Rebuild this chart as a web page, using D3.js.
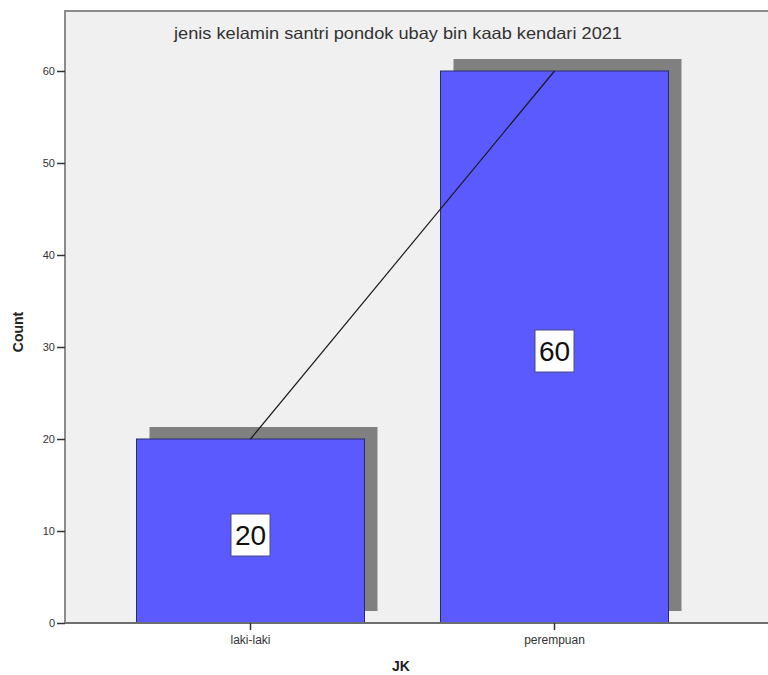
<!DOCTYPE html>
<html>
<head>
<meta charset="utf-8">
<script src="https://cdn.jsdelivr.net/npm/d3@7"></script>
<style>
  html, body { margin: 0; padding: 0; background: #ffffff; }
  svg { display: block; }
  text { font-family: "Liberation Sans", Arial, sans-serif; }
</style>
</head>
<body>
<svg id="chart" width="768" height="675"></svg>
<script>
// Gender of santri, Pondok Ubay bin Kaab Kendari 2021
const categories = ["laki-laki", "perempuan"];
const counts = [20, 60];
const yTicks = [0, 10, 20, 30, 40, 50, 60];
const titleText = "jenis kelamin santri pondok ubay bin kaab kendari 2021";
const xTitle = "JK";
const yTitle = "Count";

const svg = d3.select("#chart");

const plot = { left: 65, top: 11, right: 790, bottom: 623 };

const x = d3.scaleBand()
  .domain(categories)
  .range([98.5, 706.5])
  .paddingInner(0.25)
  .paddingOuter(0.125);

const y = d3.scaleLinear()
  .domain([0, 60])
  .range([623, 71]);

// plot background and frame
svg.append("rect")
  .attr("x", plot.left)
  .attr("y", plot.top)
  .attr("width", plot.right - plot.left)
  .attr("height", plot.bottom - plot.top)
  .attr("fill", "#f0f0f0")
  .attr("stroke", "#8c8c8c")
  .attr("stroke-width", 2);

// title inside the plot
svg.append("text")
  .attr("x", 398)
  .attr("y", 39)
  .attr("text-anchor", "middle")
  .attr("font-size", 16.5)
  .attr("textLength", 448)
  .attr("lengthAdjust", "spacingAndGlyphs")
  .attr("fill", "#333")
  .text(titleText);

const shadowDx = 13, shadowDy = -12;

// drop shadows
svg.append("g").selectAll("rect")
  .data(categories)
  .join("rect")
  .attr("x", d => x(d) + shadowDx)
  .attr("y", (d, i) => y(counts[i]) + shadowDy)
  .attr("width", x.bandwidth())
  .attr("height", (d, i) => y(0) - y(counts[i]))
  .attr("fill", "#808080");

// bars
svg.append("g").selectAll("rect")
  .data(categories)
  .join("rect")
  .attr("x", d => x(d))
  .attr("y", (d, i) => y(counts[i]))
  .attr("width", x.bandwidth())
  .attr("height", (d, i) => y(0) - y(counts[i]))
  .attr("fill", "#5a5aff")
  .attr("stroke", "#2a2a6a")
  .attr("stroke-width", 1);

// line joining the bar tops
const line = d3.line()
  .x(d => x(d.c) + x.bandwidth() / 2)
  .y(d => y(d.v));
svg.append("path")
  .datum(categories.map((c, i) => ({ c, v: counts[i] })))
  .attr("d", line)
  .attr("fill", "none")
  .attr("stroke", "#1a1a1a")
  .attr("stroke-width", 1.2);

// value labels in white boxes
const labels = svg.append("g").selectAll("g")
  .data(categories)
  .join("g")
  .attr("transform", (d, i) =>
    `translate(${x(d) + x.bandwidth() / 2},${y(counts[i] / 2) + 4})`);
labels.append("rect")
  .attr("x", -19.5)
  .attr("y", -21)
  .attr("width", 39)
  .attr("height", 42)
  .attr("fill", "#ffffff")
  .attr("stroke", "#4a4a8a")
  .attr("stroke-width", 1);
labels.append("text")
  .attr("text-anchor", "middle")
  .attr("dy", "0.35em")
  .attr("font-size", 28)
  .attr("fill", "#111")
  .text((d, i) => counts[i]);

// y axis
const yAxis = svg.append("g")
  .attr("transform", `translate(${plot.left},0)`)
  .call(d3.axisLeft(y).tickValues(yTicks).tickSize(8).tickPadding(2));
yAxis.select(".domain").remove();
yAxis.selectAll(".tick line").attr("stroke", "#333").attr("stroke-width", 1.5);
yAxis.selectAll(".tick text")
  .attr("font-size", 11)
  .attr("fill", "#333")
  .style("font-family", "'Liberation Sans', Arial, sans-serif");

// x axis
const xAxis = svg.append("g")
  .attr("transform", `translate(0,${plot.bottom})`)
  .call(d3.axisBottom(x).tickSize(7).tickPadding(5));
xAxis.select(".domain")
  .attr("d", `M${plot.left},0H${plot.right}`)
  .attr("stroke", "#6e6e6e")
  .attr("stroke-width", 2);
xAxis.selectAll(".tick line").attr("stroke", "#333").attr("stroke-width", 1.5);
xAxis.selectAll(".tick text")
  .attr("font-size", 12)
  .attr("fill", "#333")
  .style("font-family", "'Liberation Sans', Arial, sans-serif");

// axis titles
svg.append("text")
  .attr("x", 401)
  .attr("y", 671)
  .attr("text-anchor", "middle")
  .attr("font-size", 14)
  .attr("font-weight", "bold")
  .attr("fill", "#222")
  .text(xTitle);

svg.append("text")
  .attr("transform", "translate(23,332) rotate(-90)")
  .attr("text-anchor", "middle")
  .attr("font-size", 14)
  .attr("font-weight", "bold")
  .attr("fill", "#222")
  .text(yTitle);
</script>
</body>
</html>
